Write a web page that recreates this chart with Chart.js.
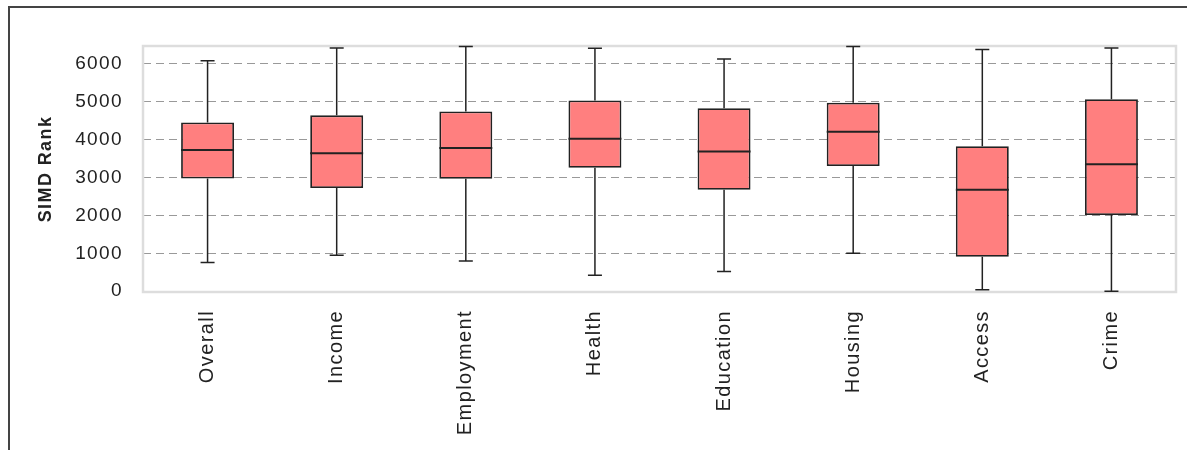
<!DOCTYPE html>
<html>
<head>
<meta charset="utf-8">
<script src="https://cdn.jsdelivr.net/npm/chart.js@4/dist/chart.umd.min.js"></script>
<style>
  html, body { margin: 0; padding: 0; background: #fff; }
  #wrap { position: relative; width: 1187px; height: 450px; overflow: hidden; }
  #frame { position: absolute; left: 8px; top: 6px; width: 1300px; height: 600px;
           border-top: 2px solid #444; border-left: 2px solid #444; }
  canvas { position: absolute; left: 0; top: 0; }
</style>
</head>
<body>
<div id="wrap">
  <div id="frame"></div>
  <canvas id="boxChart" width="1187" height="450"></canvas>
</div>
<script>
// SIMD rank distribution per domain
const categories = ['Overall', 'Income', 'Employment', 'Health', 'Education', 'Housing', 'Access', 'Crime'];
const minValues    = [760, 950, 800, 420, 520, 1000, 40, 0];
const q1Values     = [2975, 2725, 2965, 3255, 2675, 3305, 910, 2010];
const medianValues = [3725, 3640, 3780, 4025, 3685, 4210, 2675, 3350];
const q3Values     = [4450, 4640, 4745, 5035, 4830, 4975, 3825, 5065];
const maxValues    = [6080, 6420, 6460, 6410, 6130, 6460, 6375, 6420];
const yTicks = [0, 1000, 2000, 3000, 4000, 5000, 6000];

// whiskers, caps and median lines drawn on top of the floating bars
const whiskerPlugin = {
    id: 'whiskers',
    beforeDraw(chart) {
        // labels in the original are slightly letter-spaced
        chart.ctx.letterSpacing = '1.4px';
    },
    beforeDatasetsDraw(chart) {
        const ctx = chart.ctx;
        const area = chart.chartArea;
        ctx.save();
        ctx.strokeStyle = '#dddddd';
        ctx.lineWidth = 2.5;
        ctx.strokeRect(area.left, area.top, area.right - area.left, area.bottom - area.top);
        ctx.restore();
    },
    afterDatasetsDraw(chart) {
        const ctx = chart.ctx;
        const xs = chart.scales.x;
        const ys = chart.scales.y;
        const bars = chart.getDatasetMeta(0).data;
        ctx.save();
        ctx.strokeStyle = '#222';
        ctx.lineWidth = 1.5;
        categories.forEach((c, i) => {
            const x = xs.getPixelForValue(i);
            const half = bars[i].width / 2;
            const cap = 7;
            ctx.beginPath();
            ctx.moveTo(x, ys.getPixelForValue(maxValues[i]));
            ctx.lineTo(x, ys.getPixelForValue(q3Values[i]));
            ctx.moveTo(x, ys.getPixelForValue(q1Values[i]));
            ctx.lineTo(x, ys.getPixelForValue(minValues[i]));
            ctx.moveTo(x - cap, ys.getPixelForValue(maxValues[i]));
            ctx.lineTo(x + cap, ys.getPixelForValue(maxValues[i]));
            ctx.moveTo(x - cap, ys.getPixelForValue(minValues[i]));
            ctx.lineTo(x + cap, ys.getPixelForValue(minValues[i]));
            ctx.stroke();
            ctx.beginPath();
            ctx.lineWidth = 2;
            ctx.moveTo(x - half, ys.getPixelForValue(medianValues[i]));
            ctx.lineTo(x + half, ys.getPixelForValue(medianValues[i]));
            ctx.stroke();
            ctx.lineWidth = 1.5;
        });
        ctx.restore();
    }
};

const ctxBox = document.getElementById('boxChart').getContext('2d');
const boxChart = new Chart(ctxBox, {
    type: 'bar',
    data: {
        labels: categories,
        datasets: [{
            label: 'SIMD Rank',
            data: q1Values.map((q1, i) => [q1, q3Values[i]]),
            backgroundColor: '#ff7f7f',
            borderColor: '#222',
            borderWidth: 1.8,
            borderSkipped: false,
            barPercentage: 0.41,
            categoryPercentage: 1.0
        }]
    },
    options: {
        responsive: false,
        animation: false,
        layout: { padding: { left: 31, top: 46, right: 11, bottom: 0 } },
        plugins: {
            legend: { display: false },
            tooltip: { enabled: false }
        },
        scales: {
            x: {
                grid: { display: false, drawTicks: false },
                border: { display: false },
                ticks: {
                    color: '#222',
                    font: { family: 'Liberation Sans', size: 20 },
                    minRotation: 90,
                    maxRotation: 90,
                    padding: 18
                },
                afterFit(scale) { scale.height = 158; }
            },
            y: {
                min: -20,
                max: 6470,
                afterBuildTicks(scale) {
                    scale.ticks = yTicks.map(v => ({ value: v }));
                },
                grid: {
                    color: ctx => ctx.tick && ctx.tick.value === 0 ? 'rgba(0,0,0,0)' : '#999',
                    lineWidth: 1,
                    drawTicks: false
                },
                border: { display: false, dash: [8, 5] },
                ticks: {
                    color: '#222',
                    font: { family: 'Liberation Sans', size: 19 },
                    padding: 20,
                    callback: value => String(value)
                },
                title: {
                    display: true,
                    text: 'SIMD Rank',
                    color: '#222',
                    font: { family: 'Liberation Sans', size: 18, weight: 'bold' }
                },
                afterFit(scale) { scale.width = 112; }
            }
        }
    },
    plugins: [whiskerPlugin]
});
</script>
</body>
</html>
